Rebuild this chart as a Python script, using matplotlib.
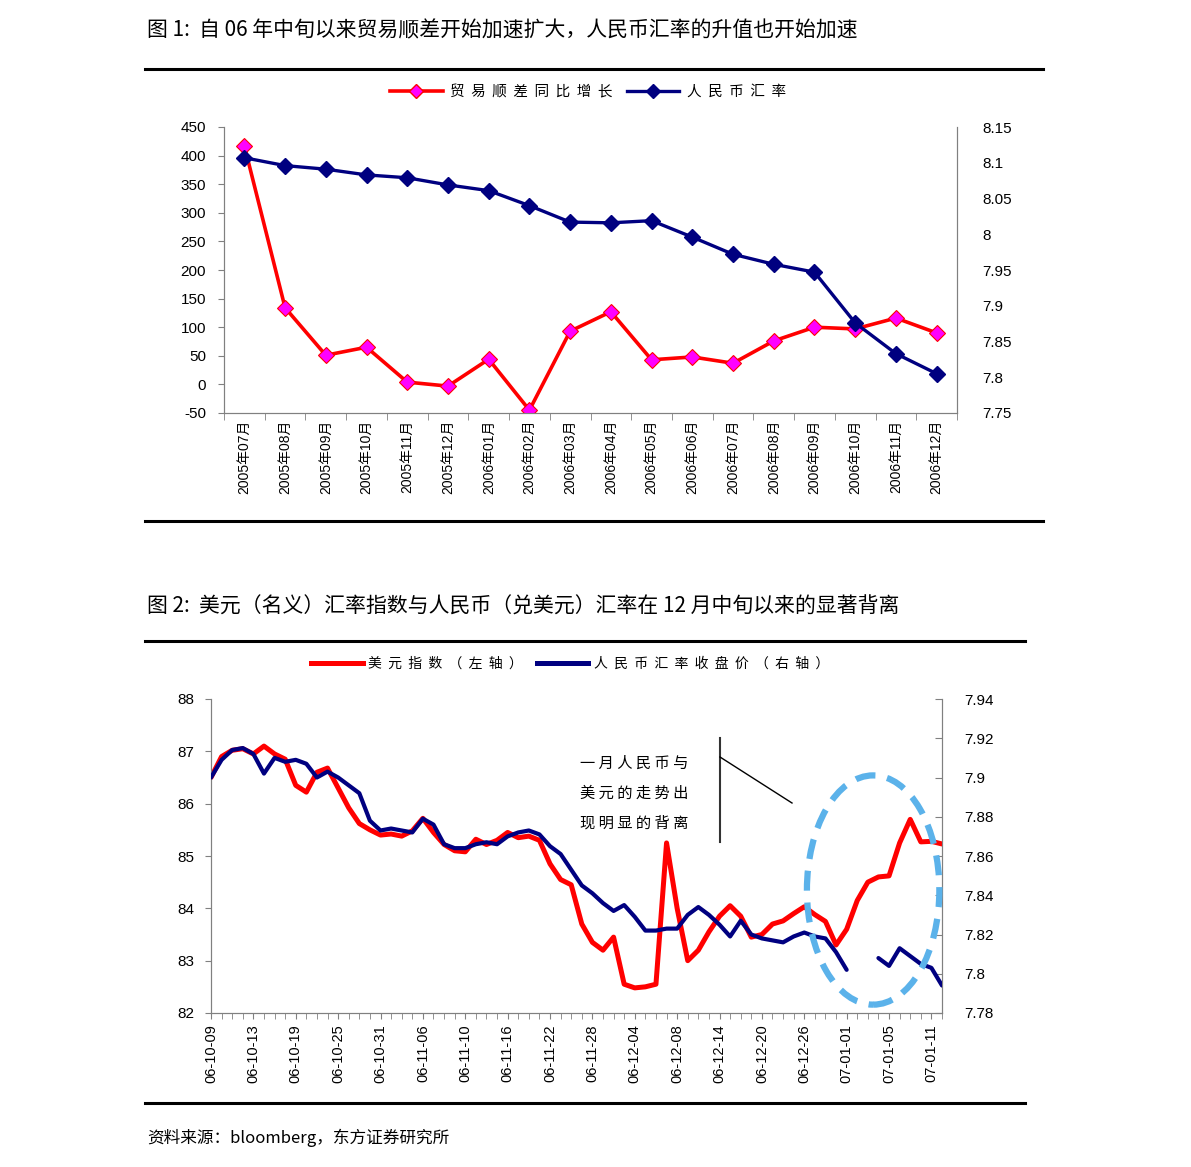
import matplotlib
matplotlib.use("Agg")
import matplotlib.pyplot as plt
import numpy as np
from matplotlib.lines import Line2D
from matplotlib.patches import Ellipse

plt.rcParams['font.family'] = ['Liberation Sans', 'Noto Sans CJK SC', 'DejaVu Sans']
plt.rcParams['axes.unicode_minus'] = False
CJK = ['Noto Sans CJK SC', 'DejaVu Sans']

# --- chart 1 data ---
months = ['2005年07月', '2005年08月', '2005年09月', '2005年10月', '2005年11月', '2005年12月',
          '2006年01月', '2006年02月', '2006年03月', '2006年04月', '2006年05月', '2006年06月',
          '2006年07月', '2006年08月', '2006年09月', '2006年10月', '2006年11月', '2006年12月']
trade_yoy = [417, 134, 51, 65, 4, -3, 44, -45, 93, 127, 43, 48, 37, 76, 100, 97, 116, 90]
cny_rate = [8.107, 8.096, 8.091, 8.083, 8.079, 8.069, 8.061, 8.040, 8.017, 8.016,
            8.019, 7.996, 7.972, 7.958, 7.947, 7.876, 7.833, 7.805]

# --- chart 2 data (daily, labels every 4th day) ---
date_labels = ['06-10-09', '06-10-13', '06-10-19', '06-10-25', '06-10-31', '06-11-06',
               '06-11-10', '06-11-16', '06-11-22', '06-11-28', '06-12-04', '06-12-08',
               '06-12-14', '06-12-20', '06-12-26', '07-01-01', '07-01-05', '07-01-11']
usd_index = [86.5, 86.9, 87.02, 87.05, 86.95, 87.1, 86.95, 86.85, 86.35, 86.22,
             86.6, 86.68, 86.3, 85.92, 85.62, 85.5, 85.4, 85.42, 85.38, 85.48,
             85.72, 85.45, 85.22, 85.1, 85.08, 85.32, 85.22, 85.3, 85.45, 85.35,
             85.38, 85.3, 84.85, 84.55, 84.45, 83.7, 83.35, 83.2, 83.45, 82.55,
             82.48, 82.5, 82.55, 85.25, 84.0, 83.0, 83.2, 83.55, 83.85, 84.05,
             83.85, 83.45, 83.5, 83.7, 83.76, 83.9, 84.03, 83.88, 83.75, 83.3,
             83.6, 84.15, 84.5, 84.6, 84.62, 85.25, 85.7, 85.27, 85.28, 85.23]
cny_close = [7.900, 7.909, 7.914, 7.915, 7.912, 7.902, 7.910, 7.908, 7.909, 7.907,
             7.900, 7.903, 7.900, 7.896, 7.892, 7.878, 7.873, 7.874, 7.873, 7.872,
             7.879, 7.876, 7.866, 7.864, 7.864, 7.866, 7.867, 7.866, 7.870, 7.872,
             7.873, 7.871, 7.865, 7.861, 7.853, 7.845, 7.841, 7.836, 7.832, 7.835,
             7.829, 7.822, 7.822, 7.823, 7.823, 7.830, 7.834, 7.830, 7.825, 7.819,
             7.827, 7.820, 7.818, 7.817, 7.816, 7.819, 7.821, 7.819, 7.818, 7.811,
             7.802, np.nan, np.nan, 7.808, 7.804, 7.813, 7.809, 7.805, 7.803, 7.794]

RED = '#FF0000'
NAVY = '#000080'
MAGENTA = '#FF00FF'
GRAY = '#808080'

fig = plt.figure(figsize=(11.91, 11.67), dpi=100)


def rule(y, x0, x1):
    fig.add_artist(Line2D([x0 / 1191, x1 / 1191], [1 - y / 1167, 1 - y / 1167],
                          transform=fig.transFigure, color='black', lw=2.2))


# ================= chart 1 =================
fig.text(147 / 1191, 1 - 30 / 1167, '图 1:  自 06 年中旬以来贸易顺差开始加速扩大，人民币汇率的升值也开始加速',
         family=CJK, fontsize=15, fontweight='medium', va='center', ha='left')
rule(69, 145, 1043)
rule(521, 145, 1043)

ax1 = fig.add_axes([224 / 1191, 1 - 413 / 1167, (957 - 224) / 1191, (413 - 127) / 1167])
ax1r = ax1.twinx()
x1 = np.arange(len(months))
ax1.plot(x1, trade_yoy, color=RED, lw=2.6, marker='D', ms=8, mfc=MAGENTA, mec=RED, mew=0.8, zorder=3)
ax1r.plot(x1, cny_rate, color=NAVY, lw=2.4, marker='D', ms=8, mfc=NAVY, mec=NAVY, zorder=3)

ax1.set_xlim(-0.5, len(months) - 0.5)
ax1.set_ylim(-50, 450)
ax1.set_yticks(np.arange(-50, 451, 50))
ax1r.set_ylim(7.75, 8.15)
ax1r.set_yticks(np.arange(7.75, 8.151, 0.05))
ax1r.yaxis.set_major_formatter(lambda v, p: f'{v:g}')

ax1.set_xticks(x1)
ax1.set_xticklabels(months, rotation=90, fontsize=10, va='top', ha='center')
ax1.set_xticks(np.arange(-0.5, len(months), 1), minor=True)
ax1.tick_params(axis='x', which='major', length=0, pad=5)
ax1.tick_params(axis='x', which='minor', length=5, color=GRAY, direction='out')
ax1.tick_params(axis='y', labelsize=11, length=4, color=GRAY, direction='out', pad=9)
ax1r.tick_params(axis='y', labelsize=11, length=0, pad=18)
for a in (ax1, ax1r):
    a.spines['top'].set_visible(False)
    for s in ('left', 'right', 'bottom'):
        a.spines[s].set_color(GRAY)

h1 = [Line2D([], [], color=RED, lw=2.6, marker='D', ms=7, mfc=MAGENTA, mec=RED),
      Line2D([], [], color=NAVY, lw=2.4, marker='D', ms=7, mfc=NAVY, mec=NAVY)]
fig.legend(h1, ['贸  易  顺  差  同  比  增  长', '人  民  币  汇  率'], ncol=2, loc='center',
           bbox_to_anchor=(588 / 1191, 1 - 92 / 1167), frameon=False,
           prop={'family': CJK, 'size': 10.5}, handlelength=3.6, columnspacing=1.0, handletextpad=0.5)

# ================= chart 2 =================
fig.text(147 / 1191, 1 - 607 / 1167, '图 2:  美元（名义）汇率指数与人民币（兑美元）汇率在 12 月中旬以来的显著背离',
         family=CJK, fontsize=15, fontweight='medium', va='center', ha='left')
rule(641, 145, 1025)
rule(1103, 145, 1025)

ax2 = fig.add_axes([211 / 1191, 1 - 1013 / 1167, (942 - 211) / 1191, (1013 - 699) / 1167])
ax2r = ax2.twinx()
x2 = np.arange(len(usd_index))
ax2.plot(x2, usd_index, color=RED, lw=3.6, solid_joinstyle='round', solid_capstyle='round', zorder=3)
ax2r.plot(x2, cny_close, color=NAVY, lw=3.0, solid_joinstyle='round', solid_capstyle='round', zorder=3)

ax2.set_xlim(0, len(usd_index) - 1)
ax2.set_ylim(82, 88)
ax2.set_yticks(np.arange(82, 88.1, 1))
ax2r.set_ylim(7.78, 7.94)
ax2r.set_yticks(np.arange(7.78, 7.9401, 0.02))
ax2r.yaxis.set_major_formatter(lambda v, p: f'{v:g}')

ax2.set_xticks(np.arange(0, len(usd_index), 4))
ax2.set_xticklabels(date_labels, rotation=90, fontsize=10.5)
ax2.set_xticks(x2, minor=True)
ax2.tick_params(axis='x', which='both', length=4, color=GRAY, direction='out', pad=4)
ax2.tick_params(axis='y', labelsize=11, length=4, color=GRAY, direction='out', pad=8)
ax2r.tick_params(axis='y', labelsize=11, length=5, color=GRAY, direction='in', pad=16)
for a in (ax2, ax2r):
    a.spines['top'].set_visible(False)
    for s in ('left', 'right', 'bottom'):
        a.spines[s].set_color(GRAY)

# dashed ellipse marking the divergence
ax2r.add_patch(Ellipse((62.5, 84.35), 12.5, 4.38, transform=ax2.transData, fill=False,
                       edgecolor='#5BB2EA', lw=4.5, linestyle=(0, (3.2, 1.9)), zorder=4, clip_on=False))
ax2r.set_ylim(7.78, 7.94)

fig.text(580 / 1191, 1 - 793 / 1167, '一 月 人 民 币 与\n美 元 的 走 势 出\n现 明 显 的 背 离',
         family=CJK, fontsize=11, va='center', ha='left', linespacing=2.0)
fig.add_artist(Line2D([720 / 1191, 720 / 1191], [1 - 738 / 1167, 1 - 842 / 1167],
                      transform=fig.transFigure, color='#333333', lw=1.5))
fig.add_artist(Line2D([720 / 1191, 792 / 1191], [1 - 757 / 1167, 1 - 803 / 1167],
                      transform=fig.transFigure, color='black', lw=1.0))

h2 = [Line2D([], [], color=RED, lw=3.6), Line2D([], [], color=NAVY, lw=3.6)]
fig.legend(h2, ['美  元  指  数  （  左  轴  ）', '人  民  币  汇  率  收  盘  价  （  右  轴  ）'],
           ncol=2, loc='center', bbox_to_anchor=(570 / 1191, 1 - 664 / 1167), frameon=False,
           prop={'family': CJK, 'size': 10}, handlelength=3.7, columnspacing=1.0, handletextpad=0.4)

fig.text(147 / 1191, 1 - 1138 / 1167, '资料来源：bloomberg，东方证券研究所',
         family=CJK, fontsize=12, va='center', ha='left')

fig.savefig('out.png', dpi=100)
